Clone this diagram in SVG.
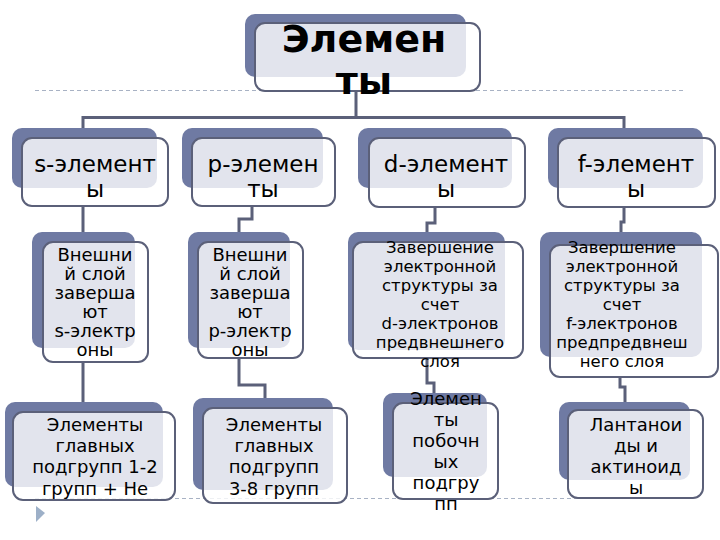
<svg xmlns="http://www.w3.org/2000/svg" width="720" height="540" viewBox="0 0 720 540">
<style>
.bk{fill:#6f7aa3}
.fr{fill:#ffffff;fill-opacity:.8;stroke:#5b6079;stroke-width:2}
.t{font-family:"DejaVu Sans",sans-serif;fill:#000;text-anchor:middle}
.c{fill:none;stroke:#5b6079;stroke-width:3}
.dash{fill:none;stroke:#a8b2c4;stroke-width:1;stroke-dasharray:4 3}
</style>
<rect width="720" height="540" fill="#fff"/>
<g id="guides">
<line class="dash" x1="35" y1="90.5" x2="685" y2="90.5"/>
<line class="dash" x1="35" y1="498.5" x2="685" y2="498.5"/>
<polygon points="36,506 45,513 36,522" fill="#9db0c8"/>
</g>
<g id="connectors">
<path class="c" d="M356,91 V117.5 M83,128 V117.5 H624 V128"/>
<path class="c" d="M83,206 V232 M83,362 V402"/>
<path class="c" d="M252,206 V219 H239 V232 M239,358 V385 H265 V398"/>
<path class="c" d="M435,207 V223 H427 V232 M427,358 V383 H434 V393"/>
<path class="c" d="M624,207 V222 H621 V232 M620,377 V387 H625 V402"/>
</g>
<g id="root">
<rect class="bk" x="245" y="14" width="221" height="63" rx="10"/>
<rect class="fr" x="255" y="23" width="225" height="68" rx="10"/>
<text class="t" font-size="38" font-weight="bold"><tspan x="364" y="52">Элемен</tspan><tspan x="364" y="94">ты</tspan></text>
</g>
<g id="s">
<rect class="bk" x="12" y="128" width="145" height="60" rx="10"/>
<rect class="fr" x="22" y="138" width="146" height="68" rx="10"/>
<text class="t" font-size="23"><tspan x="95" y="172">s-элемент</tspan><tspan x="95" y="197">ы</tspan></text>
</g>
<g id="p">
<rect class="bk" x="182" y="128" width="141" height="60" rx="10"/>
<rect class="fr" x="192" y="138" width="143" height="68" rx="10"/>
<text class="t" font-size="23"><tspan x="263" y="172">p-элемен</tspan><tspan x="263" y="197">ты</tspan></text>
</g>
<g id="d">
<rect class="bk" x="358" y="128" width="154" height="60" rx="10"/>
<rect class="fr" x="369" y="138" width="156" height="69" rx="10"/>
<text class="t" font-size="23"><tspan x="446" y="172">d-элемент</tspan><tspan x="446" y="197">ы</tspan></text>
</g>
<g id="f">
<rect class="bk" x="548" y="128" width="155" height="60" rx="10"/>
<rect class="fr" x="558" y="138" width="157" height="69" rx="10"/>
<text class="t" font-size="23"><tspan x="636" y="172">f-элемент</tspan><tspan x="636" y="197">ы</tspan></text>
</g>
<g id="s-outer">
<rect class="bk" x="32" y="232" width="103" height="116" rx="10"/>
<rect class="fr" x="43" y="242" width="105" height="120" rx="10"/>
<text class="t" font-size="18"><tspan x="95" y="261">Внешни</tspan><tspan x="95" y="280">й слой</tspan><tspan x="95" y="299">заверша</tspan><tspan x="95" y="318">ют</tspan><tspan x="95" y="337">s-электр</tspan><tspan x="95" y="356">оны</tspan></text>
</g>
<g id="p-outer">
<rect class="bk" x="188" y="232" width="102" height="116" rx="10"/>
<rect class="fr" x="198" y="242" width="105" height="116" rx="10"/>
<text class="t" font-size="18"><tspan x="250" y="261">Внешни</tspan><tspan x="250" y="280">й слой</tspan><tspan x="250" y="299">заверша</tspan><tspan x="250" y="318">ют</tspan><tspan x="250" y="337">p-электр</tspan><tspan x="250" y="356">оны</tspan></text>
</g>
<g id="d-outer">
<rect class="bk" x="348" y="232" width="157" height="118" rx="10"/>
<rect class="fr" x="353" y="242" width="170" height="116" rx="10"/>
<text class="t" font-size="16.5"><tspan x="440" y="253">Завершение</tspan><tspan x="440" y="272">электронной</tspan><tspan x="440" y="291">структуры за</tspan><tspan x="440" y="310">счет</tspan><tspan x="440" y="329">d-электронов</tspan><tspan x="440" y="348">предвнешнего</tspan><tspan x="440" y="367">слоя</tspan></text>
</g>
<g id="f-outer">
<rect class="bk" x="540" y="232" width="162" height="125" rx="10"/>
<rect class="fr" x="550" y="245" width="168" height="132" rx="10"/>
<text class="t" font-size="16.5"><tspan x="622" y="253">Завершение</tspan><tspan x="622" y="272">электронной</tspan><tspan x="622" y="291">структуры за</tspan><tspan x="622" y="310">счет</tspan><tspan x="622" y="329">f-электронов</tspan><tspan x="622" y="348">предпредвнеш</tspan><tspan x="622" y="367">него слоя</tspan></text>
</g>
<g id="s-groups">
<rect class="bk" x="5" y="402" width="158" height="85" rx="10"/>
<rect class="fr" x="13" y="412" width="162" height="88" rx="10"/>
<text class="t" font-size="18"><tspan x="95" y="431">Элементы</tspan><tspan x="95" y="452">главных</tspan><tspan x="95" y="473">подгрупп 1-2</tspan><tspan x="95" y="495">групп + He</tspan></text>
</g>
<g id="p-groups">
<rect class="bk" x="193" y="398" width="140" height="92" rx="10"/>
<rect class="fr" x="203" y="408" width="144" height="95" rx="10"/>
<text class="t" font-size="18"><tspan x="274" y="431">Элементы</tspan><tspan x="274" y="452">главных</tspan><tspan x="274" y="473">подгрупп</tspan><tspan x="274" y="495">3-8 групп</tspan></text>
</g>
<g id="d-groups">
<rect class="bk" x="383" y="393" width="104" height="84" rx="10"/>
<rect class="fr" x="393" y="403" width="105" height="96" rx="10"/>
<text class="t" font-size="18"><tspan x="446" y="405">Элемен</tspan><tspan x="446" y="426">ты</tspan><tspan x="446" y="447">побочн</tspan><tspan x="446" y="468">ых</tspan><tspan x="446" y="489">подгру</tspan><tspan x="446" y="510">пп</tspan></text>
</g>
<g id="f-groups">
<rect class="bk" x="559" y="402" width="131" height="78" rx="10"/>
<rect class="fr" x="568" y="410" width="135" height="88" rx="10"/>
<text class="t" font-size="18"><tspan x="636" y="431">Лантанои</tspan><tspan x="636" y="452">ды и</tspan><tspan x="636" y="473">актиноид</tspan><tspan x="636" y="494">ы</tspan></text>
</g>
</svg>
